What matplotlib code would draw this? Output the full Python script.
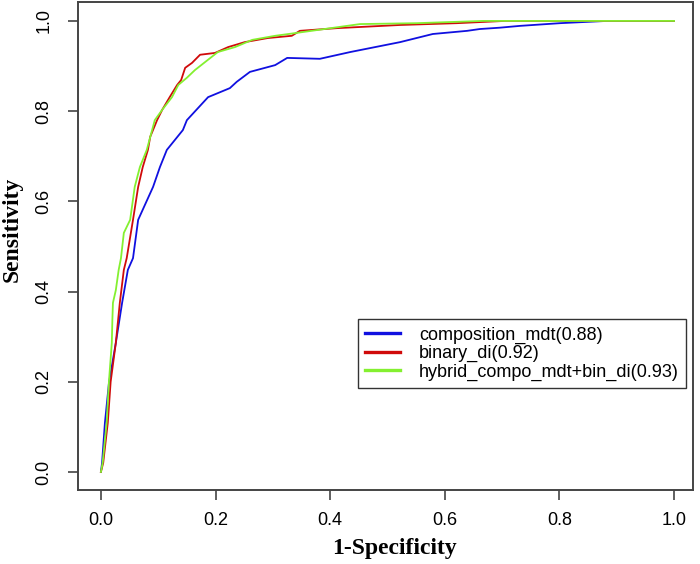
import matplotlib.pyplot as plt

# ROC points (1-specificity, sensitivity)
compo_fpr = [0.0, 0.002, 0.007, 0.014, 0.026, 0.037, 0.047, 0.056, 0.065, 0.091,
             0.103, 0.115, 0.143, 0.150, 0.187, 0.225, 0.237, 0.260, 0.304,
             0.325, 0.382, 0.435, 0.522, 0.579, 0.639, 0.661, 0.696, 0.731,
             0.801, 0.883, 1.0]
compo_tpr = [0.0, 0.02, 0.109, 0.197, 0.286, 0.375, 0.448, 0.474, 0.559, 0.632,
             0.676, 0.714, 0.758, 0.780, 0.831, 0.851, 0.865, 0.887, 0.902,
             0.918, 0.916, 0.931, 0.953, 0.971, 0.978, 0.982, 0.985, 0.989,
             0.995, 1.0, 1.0]

binary_fpr = [0.0, 0.004, 0.012, 0.017, 0.026, 0.033, 0.040, 0.045, 0.056,
              0.065, 0.073, 0.082, 0.086, 0.098, 0.107, 0.120, 0.133, 0.140,
              0.147, 0.159, 0.173, 0.199, 0.222, 0.251, 0.291, 0.333, 0.347,
              0.412, 0.522, 0.621, 0.705, 1.0]
binary_tpr = [0.0, 0.02, 0.109, 0.200, 0.286, 0.375, 0.448, 0.474, 0.559,
              0.632, 0.676, 0.714, 0.743, 0.780, 0.803, 0.831, 0.858, 0.869,
              0.896, 0.907, 0.925, 0.929, 0.942, 0.953, 0.962, 0.967, 0.978,
              0.984, 0.991, 0.995, 1.0, 1.0]

hybrid_fpr = [0.0, 0.003, 0.010, 0.014, 0.019, 0.020, 0.021, 0.026, 0.031,
              0.035, 0.040, 0.051, 0.059, 0.068, 0.080, 0.094, 0.107, 0.124,
              0.135, 0.150, 0.164, 0.187, 0.204, 0.234, 0.264, 0.304, 0.339,
              0.452, 0.551, 0.667, 1.0]
hybrid_tpr = [0.0, 0.02, 0.109, 0.200, 0.286, 0.337, 0.375, 0.403, 0.448,
              0.474, 0.530, 0.559, 0.632, 0.676, 0.714, 0.780, 0.803, 0.831,
              0.858, 0.874, 0.891, 0.914, 0.931, 0.942, 0.958, 0.967, 0.973,
              0.993, 0.995, 1.0, 1.0]

labels = ['composition_mdt(0.88)', 'binary_di(0.92)',
          'hybrid_compo_mdt+bin_di(0.93)']
ticks = [0.0, 0.2, 0.4, 0.6, 0.8, 1.0]
tick_labels = ['0.0', '0.2', '0.4', '0.6', '0.8', '1.0']

fig = plt.figure(figsize=(7, 5.64), dpi=100)
ax = fig.add_axes([0.1114, 0.1312, 0.8786, 0.8653])

# Draw the three curves, green on top like the original
ax.plot(compo_fpr, compo_tpr, color='#1010e0', lw=1.3, label=labels[0])
ax.plot(binary_fpr, binary_tpr, color='#d00a0a', lw=1.3, label=labels[1])
ax.plot(hybrid_fpr, hybrid_tpr, color='#84f030', lw=1.3, label=labels[2])

ax.set_xlim(-0.04, 1.033)
ax.set_ylim(-0.04, 1.042)
ax.set_xticks(ticks)
ax.set_yticks(ticks)
ax.set_xticklabels(tick_labels, fontfamily='Liberation Sans', fontsize=13)
ax.set_yticklabels(tick_labels, fontfamily='Liberation Sans', fontsize=13,
                   rotation=90, va='center')
ax.tick_params(direction='out', length=7.5, width=1.2, color='#444444')
ax.tick_params(axis='x', pad=8)
ax.tick_params(axis='y', pad=11)

for sp in ax.spines.values():
    sp.set_color('#444444')
    sp.set_linewidth(1.4)

ax.set_xlabel('1-Specificity', fontfamily='Liberation Serif',
              fontweight='bold', fontsize=17, va='center')
ax.set_ylabel('Sensitivity', fontfamily='Liberation Serif',
              fontweight='bold', fontsize=17, va='center')
ax.xaxis.set_label_coords(0.514, -0.119)
ax.yaxis.set_label_coords(-0.107, 0.535)

leg = ax.legend(loc='upper left', bbox_to_anchor=(0.455, 0.350),
                borderaxespad=0, fancybox=False, framealpha=1,
                edgecolor='#333333', handlelength=1.95, handletextpad=1.05,
                labelspacing=0.08, borderpad=0.4,
                prop={'family': 'Liberation Sans', 'size': 13})
leg.get_frame().set_linewidth(1.0)
for line in leg.get_lines():
    line.set_linewidth(2.4)

plt.savefig('out.png', dpi=100)
plt.close()
